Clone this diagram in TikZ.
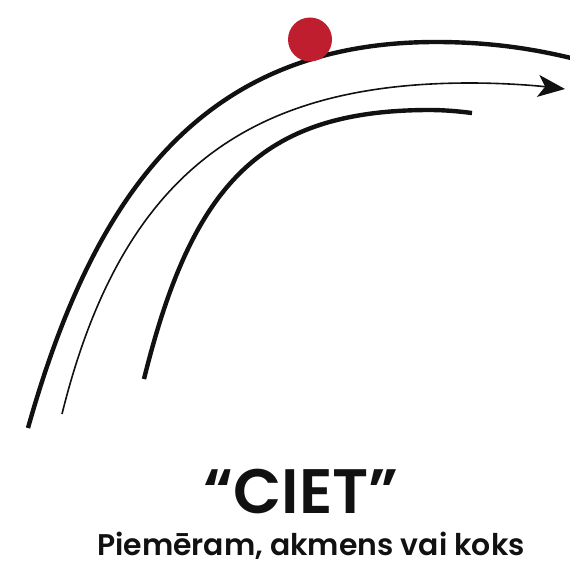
\documentclass[tikz,border=0pt]{standalone}
\usepackage{fontspec}
\setmainfont{Poppins}[UprightFont=* SemiBold]
\usetikzlibrary{arrows.meta}
\definecolor{dotred}{HTML}{BE1E2D}
\definecolor{ink}{HTML}{111111}
\tikzset{
  thickarc/.style={draw=ink, line width=4.4bp},
  thinarc/.style={draw=ink, line width=1.6bp},
  title/.style={inner sep=0pt, font=\fontsize{63}{72}\selectfont, text=ink},
  subtitle/.style={inner sep=0pt, text depth=0pt, font=\fontsize{30}{34}\selectfont, text=ink}
}
\begin{document}
\begin{tikzpicture}[x=1bp,y=-1bp]
\useasboundingbox (0,0) rectangle (570,563);
% outer arc
\draw[thickarc] (28,428) .. controls (95.5,188) and (206,42) .. (436,42)
  .. controls (490,42) and (535,49) .. (575,59);
% middle arc with arrow
\draw[thinarc, -{Stealth[length=27bp,width=22bp,inset=7bp]}] (62,414) .. controls (122,171.5) and (250,83) .. (470,83)
  .. controls (500,83) and (530,85) .. (565,89);
% inner arc
\draw[thickarc] (144,379) .. controls (192,185) and (260,110) .. (430,110)
  .. controls (445,110) and (460,111.5) .. (472,113);
% red dot
\fill[dotred] (310,39.5) circle (22);
% texts
\node[title, anchor=base] (ciet) at (301,513) {“CIET”};
\node[subtitle, anchor=base] (sub) at (311,555) {Piemēram, akmens vai koks};
\end{tikzpicture}
\end{document}
